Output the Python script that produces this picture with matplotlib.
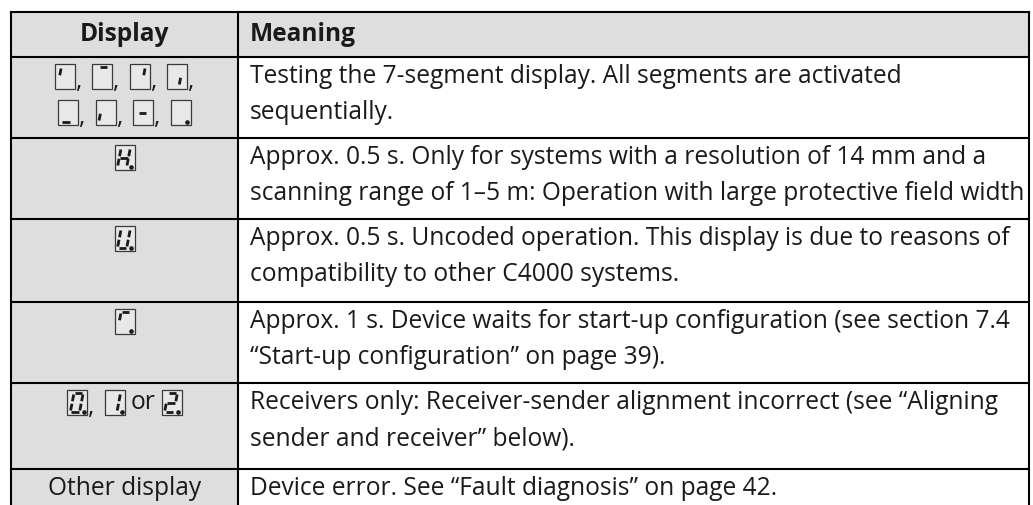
import matplotlib
matplotlib.use("Agg")
import matplotlib.pyplot as plt
from matplotlib.patches import Rectangle

# ---------------- data ----------------
header_display = "Display"
header_meaning = "Meaning"

# icon tokens: "seg:<segments>" draws a 7-segment box; other strings are text
display_cells = [
    [["seg:f", ",", "seg:a", ",", "seg:b", ",", "seg:c", ","],
     ["seg:d", ",", "seg:e", ",", "seg:g", ",", "seg:p"]],
    [["seg:bcefgp"]],
    [["seg:bcdefp"]],
    [["seg:afp"]],
    [["seg:abcdefp", ",", "seg:bcp", "or", "seg:abgedp"]],
    [["Other display"]],
]

meanings = [
    ["Testing the 7-segment display. All segments are activated",
     "sequentially."],
    ["Approx. 0.5 s. Only for systems with a resolution of 14 mm and a",
     "scanning range of 1\u20135 m: Operation with large protective field width"],
    ["Approx. 0.5 s. Uncoded operation. This display is due to reasons of",
     "compatibility to other C4000 systems."],
    ["Approx. 1 s. Device waits for start-up configuration (see section 7.4",
     "\u201cStart-up configuration\u201d on page 39)."],
    ["Receivers only: Receiver-sender alignment incorrect (see \u201cAligning",
     "sender and receiver\u201d below)."],
    ["Device error. See \u201cFault diagnosis\u201d on page 42."],
]

row_bounds = [12, 57, 138, 219, 302, 383, 469, 540]

# ---------------- layout ----------------
W, H = 1033, 505
FONT = "Open Sans"
GRAY = "#dedede"
TXT = "#1a1a1a"
XL, XM, XR = 11, 238, 1029

fig = plt.figure(figsize=(W / 100, H / 100), dpi=100)
ax = fig.add_axes([0, 0, 1, 1])
ax.set_xlim(0, W)
ax.set_ylim(H, 0)
ax.axis("off")
r = fig.canvas.get_renderer()

# fit font size to reference text width
probe = ax.text(0, 0, meanings[1][1], fontsize=13, family=FONT)
wpx = probe.get_window_extent(r).width
probe.remove()
FS = 13 * 770 / wpx

# backgrounds
ax.add_patch(Rectangle((XL, row_bounds[0]), XR - XL, row_bounds[1] - row_bounds[0],
                       facecolor=GRAY, edgecolor="none", zorder=0))
ax.add_patch(Rectangle((XL, row_bounds[1]), XM - XL, H - row_bounds[1],
                       facecolor=GRAY, edgecolor="none", zorder=0))

# grid lines
LW = 1.5
for yb in row_bounds[:-1]:
    ax.plot([XL, XR], [yb, yb], color="black", lw=LW, solid_capstyle="projecting", zorder=3)
for xb in (XL, XM, XR):
    ax.plot([xb, xb], [row_bounds[0], H + 5], color="black", lw=LW,
            solid_capstyle="projecting", zorder=3)

# headers
hy = (row_bounds[0] + row_bounds[1]) / 2
ax.text((XL + XM) / 2, hy, header_display, fontsize=FS, family=FONT, weight="bold",
        ha="center", va="center", color=TXT)
ax.text(250, hy, header_meaning, fontsize=FS, family=FONT, weight="bold",
        ha="left", va="center", color=TXT)

BW, BH = 20, 25


def draw_icon(x0, yc, segs):
    y0 = yc - BH / 2
    ax.add_patch(Rectangle((x0, y0), BW, BH, facecolor="#e8e8e8",
                           edgecolor="#3a3a3a", lw=0.9, zorder=4))
    u0, u1, v0, v1, vm, g = 0.24, 0.70, 0.13, 0.87, 0.5, 0.05
    sk = 0.24

    def P(u, v):
        u = u + sk * (v - 0.5)
        return x0 + u * BW, y0 + BH - v * BH

    lines = {
        "a": ((u0 + g, v1), (u1 - g, v1)),
        "b": ((u1, v1 - g), (u1, vm + g)),
        "c": ((u1, vm - g), (u1, v0 + g)),
        "d": ((u0 + g, v0), (u1 - g, v0)),
        "e": ((u0, vm - g), (u0, v0 + g)),
        "f": ((u0, v1 - g), (u0, vm + g)),
        "g": ((u0 + g, vm), (u1 - g, vm)),
    }
    for s in segs:
        if s in lines:
            (a1, b1), (a2, b2) = lines[s]
            p1, p2 = P(a1, b1), P(a2, b2)
            ax.plot([p1[0], p2[0]], [p1[1], p2[1]], color="#1a1a1a", lw=2.0,
                    solid_capstyle="butt", zorder=5)
        elif s == "p":
            ax.plot([x0 + 0.84 * BW], [y0 + BH - 0.12 * BH], marker="o", ms=2.3,
                    color="#1a1a1a", zorder=5)


def tok_width(t):
    if t.startswith("seg:"):
        return BW
    tt = ax.text(0, 0, t, fontsize=FS, family=FONT)
    w = tt.get_window_extent(r).width
    tt.remove()
    return w


def gap(prev, cur):
    if prev is None:
        return 0
    if cur == ",":
        return 1
    if prev == ",":
        return 10
    return 6


LINE1, LSP = 19.5, 36
for i, (cell, mean) in enumerate(zip(display_cells, meanings)):
    top = row_bounds[i + 1]
    for li, toks in enumerate(cell):
        yc = top + LINE1 + li * LSP
        total = 0
        prev = None
        for t in toks:
            total += gap(prev, t) + tok_width(t)
            prev = t
        x = (XL + XM) / 2 - total / 2
        prev = None
        for t in toks:
            x += gap(prev, t)
            w = tok_width(t)
            if t.startswith("seg:"):
                draw_icon(x, yc, t[4:])
            elif t == ",":
                ax.text(x, yc + BH / 2 - 1, t, fontsize=FS, family=FONT, ha="left",
                        va="baseline", color=TXT)
            else:
                ax.text(x, yc, t, fontsize=FS, family=FONT, ha="left",
                        va="center", color=TXT)
            x += w
            prev = t
    for li, line in enumerate(mean):
        ax.text(250, top + LINE1 + li * LSP, line, fontsize=FS, family=FONT,
                ha="left", va="center", color=TXT)

fig.savefig("out.png", dpi=100)
